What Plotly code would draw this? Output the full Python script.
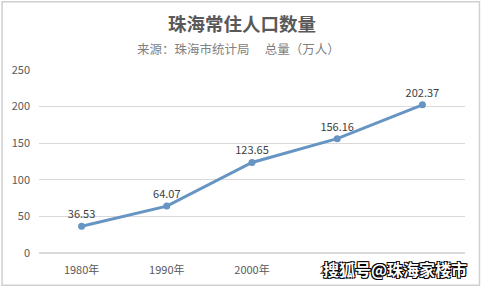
import plotly.graph_objects as go

categories = ["1980年", "1990年", "2000年", "2010年", "2020年"]
population = [36.53, 64.07, 123.65, 156.16, 202.37]
y_ticks = [0, 50, 100, 150, 200, 250]

W, H = 481, 289
ml, mr, mt, mb = 38, 16, 70, 34
pw, ph = W - ml - mr, H - mt - mb
FONT = "Noto Sans CJK SC, Microsoft YaHei, sans-serif"

fig = go.Figure()
fig.add_trace(go.Scatter(
    x=categories, y=population, mode="lines+markers+text",
    line=dict(color="#6795c3", width=3),
    marker=dict(color="#6795c3", size=7),
    text=[f"{v:.2f}" for v in population],
    textposition="top center",
    textfont=dict(family=FONT, size=11, color="#404040"),
    cliponaxis=False, showlegend=False,
))

def px_x(p):
    return (p - ml) / pw

def px_y(p):
    return (H - mb - p) / ph

fig.update_layout(
    width=W, height=H,
    margin=dict(l=ml, r=mr, t=mt, b=mb),
    paper_bgcolor="white", plot_bgcolor="white",
    font=dict(family=FONT, color="#595959"),
    xaxis=dict(type="category", range=[-0.5, 4.5], showgrid=False,
               showline=False, ticks="", tickfont=dict(size=11, color="#595959"),
               ticklabelstandoff=9),
    yaxis=dict(range=[0, 250], tickvals=y_ticks, showgrid=True,
               gridcolor="#d9d9d9", gridwidth=1, zeroline=True,
               zerolinecolor="#d9d9d9", showline=False, ticks="",
               tickfont=dict(size=11, color="#595959"), ticklabelstandoff=8),
    shapes=[dict(type="rect", xref="paper", yref="paper",
                 x0=px_x(1), x1=px_x(479.5), y0=px_y(287.5), y1=px_y(1),
                 line=dict(color="#d0d0d0", width=1.5), layer="below")],
    annotations=[
        dict(text="<b>珠海常住人口数量</b>", xref="paper", yref="paper",
             x=px_x(241), y=px_y(22), yanchor="middle", showarrow=False,
             font=dict(family=FONT, size=18.5, color="#595959")),
        dict(text="来源：珠海市统计局　 总量（万人）", xref="paper", yref="paper",
             x=px_x(238), y=px_y(48), yanchor="middle", showarrow=False,
             font=dict(family=FONT, size=12.5, color="#7f7f7f")),
        dict(text="<b>搜狐号@珠海家楼市</b>", xref="paper", yref="paper",
             x=px_x(469), y=px_y(271), xanchor="right", yanchor="middle",
             showarrow=False,
             font=dict(family=FONT, size=16, color="white",
                       shadow="-1px -1px 0 #000, 1px -1px 0 #000, -1px 1px 0 #000, 1px 1px 0 #000")),
    ],
)

fig.write_html("out.html")
